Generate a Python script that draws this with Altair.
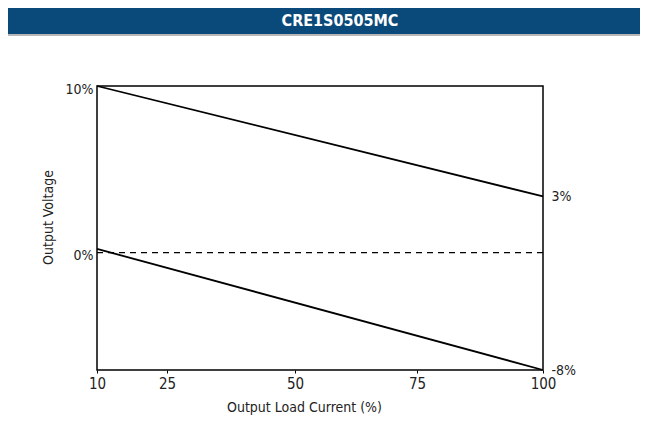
import altair as alt
import pandas as pd

# ---- data ----
load_pct = [10, 100]                 # Output load current (%)
upper_limit = [10, 3]                # upper regulation curve (%)
lower_limit = [0.2, -8]              # lower regulation curve (%)
x_ticks = [10, 25, 50, 75, 100]
left_ticks = [0, 10]
right_ticks = [-8, 3]
title_text = "CRE1S0505MC"

FONT = "Liberation Sans Narrow, DejaVu Sans Condensed, Arial Narrow, sans-serif"

W, H = 446, 284
PAD = {"left": 89, "top": 78, "right": 97, "bottom": 46}

lines_df = pd.DataFrame({
    "load": load_pct * 2,
    "v": upper_limit + lower_limit,
    "series": ["upper"] * 2 + ["lower"] * 2,
})
zero_df = pd.DataFrame({"x": [load_pct[0]], "x2": [load_pct[-1]], "y": [0]})
one = pd.DataFrame({"a": [0]})

xscale = alt.Scale(domain=[10, 25, 50, 75, 100], range=[0, 70, 198, 320, W], nice=False, zero=False)
yscale = alt.Scale(domain=[-8, 0, 3, 10], range=[H, 166.6, 110.4, 0], nice=False, zero=False)

x_axis = alt.Axis(
    values=x_ticks, title="Output Load Current (%)", domain=False,
    ticks=True, tickSize=3, tickColor="black", tickWidth=1,
    labelFont=FONT, labelFontSize=15, labelColor="#222", labelPadding=3,
    labelFlush=False, labelBound=False, labelOverlap=False,
    titleFont=FONT, titleFontSize=14, titleFontWeight="normal", titleColor="#222",
    titleX=207, titleY=30, titleAlign="center", titleBaseline="top",
    grid=False,
)

header = alt.Chart(one).mark_rect(color="#0a4a7a").encode(
    x=alt.value(-PAD["left"]), x2=alt.value(W + PAD["right"]),
    y=alt.value(-PAD["top"]), y2=alt.value(-PAD["top"] + 26),
)
header_line = alt.Chart(one).mark_rect(color="#b8b8b8").encode(
    x=alt.value(-PAD["left"]), x2=alt.value(W + PAD["right"]),
    y=alt.value(-PAD["top"] + 26), y2=alt.value(-PAD["top"] + 28),
)
header_text = alt.Chart(one).mark_text(
    text=title_text, color="white", font=FONT, fontSize=16, fontWeight="bold",
    align="center", baseline="middle",
).encode(x=alt.value(243), y=alt.value(-PAD["top"] + 13))

lines = alt.Chart(lines_df).mark_line(color="black", strokeWidth=1.8).encode(
    x=alt.X("load:Q", scale=xscale, axis=x_axis),
    y=alt.Y("v:Q", scale=yscale, axis=alt.Axis(
        orient="left", values=left_ticks, labelExpr="datum.value + '%'",
        title="Output Voltage", domain=False, ticks=False, grid=False,
        labelFont=FONT, labelFontSize=14, labelColor="#222", labelPadding=4,
        labelOffset=3, labelFlush=False, labelBound=False,
        titleFont=FONT, titleFontSize=14, titleFontWeight="normal", titleColor="#222",
        titleAngle=-90, titleX=-42, titleY=131, titleAlign="center", titleBaseline="bottom",
    )),
    detail="series:N",
)

zero_rule = alt.Chart(zero_df).mark_rule(color="black", strokeWidth=1.2, strokeDash=[6, 5]).encode(
    x=alt.X("x:Q", scale=xscale, axis=x_axis),
    x2="x2:Q",
    y=alt.Y("y:Q", scale=yscale, axis=alt.Axis(
        orient="right", values=right_ticks, labelExpr="datum.value + '%'",
        title=None, domain=False, ticks=False, grid=False,
        labelFont=FONT, labelFontSize=14, labelColor="#222", labelPadding=8,
        labelFlush=False, labelBound=False,
    )),
)

chart = alt.layer(header, header_line, header_text, lines, zero_rule).properties(
    width=W, height=H,
    autosize=alt.AutoSizeParams(type="none"),
    padding=PAD,
    background="white",
).configure_view(stroke="black", strokeWidth=1.5)

chart.save("out.html", embed_options={"renderer": "svg", "actions": False})
